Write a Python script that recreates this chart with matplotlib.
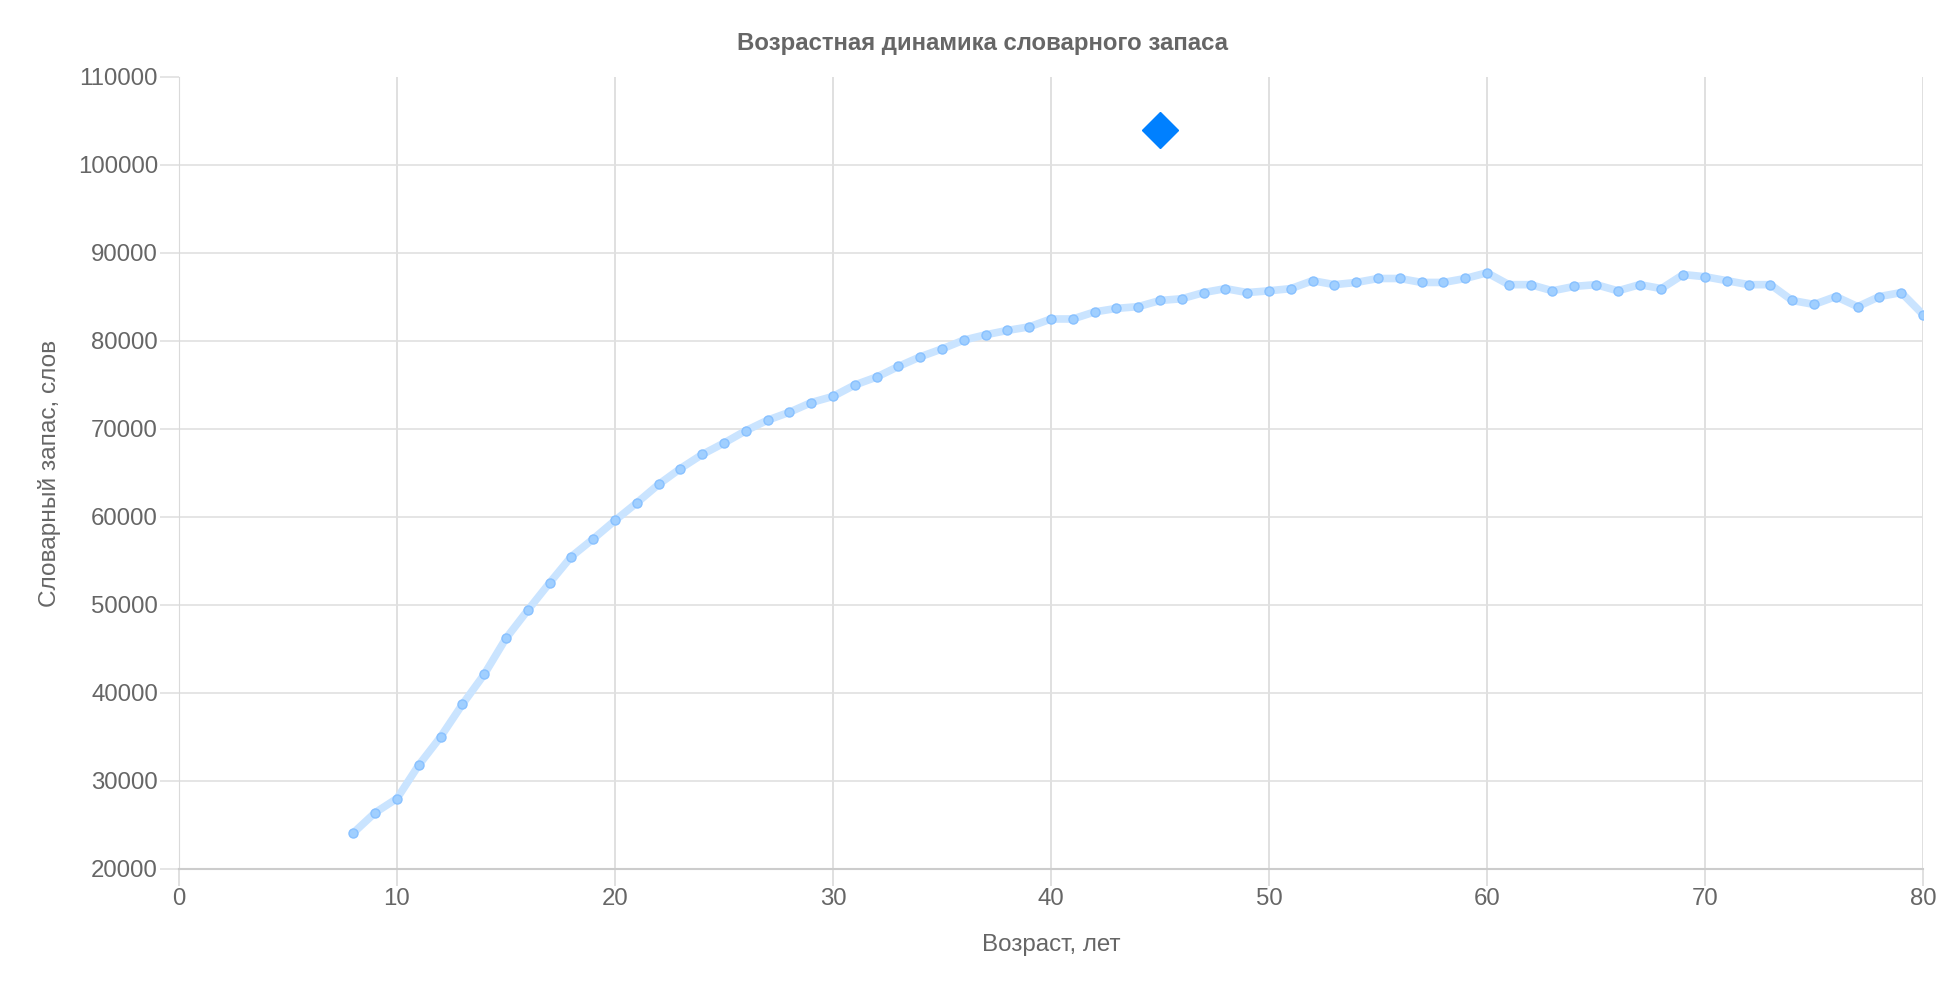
import matplotlib
matplotlib.use('Agg')
import matplotlib.pyplot as plt

plt.rcParams['font.family'] = ['Liberation Sans', 'DejaVu Sans']

# возраст, лет
vozrast = list(range(8, 81))
# словарный запас, слов
zapas = [24100, 26400, 28000, 31800, 35000, 38700, 42100, 46200, 49400, 52500,
         55500, 57500, 59600, 61600, 63700, 65500, 67100, 68400, 69800, 71000,
         71900, 73000, 73700, 75000, 75900, 77100, 78200, 79100, 80100, 80700,
         81200, 81600, 82500, 82500, 83300, 83700, 83900, 84600, 84800, 85500,
         85950, 85500, 85700, 85950, 86850, 86400, 86650, 87100, 87100, 86650,
         86650, 87100, 87750, 86400, 86400, 85700, 86200, 86400, 85700, 86400,
         85950, 87550, 87300, 86850, 86400, 86400, 84600, 84150, 85050, 83900,
         85050, 85500, 83000]

# отдельная точка
tochka_x = [45]
tochka_y = [104000]

szary = '#666666'

fig = plt.figure(figsize=(19.49, 9.83), dpi=100)
ax = fig.add_axes([0.0918, 0.116, 0.8949, 0.8057])

ax.plot(vozrast, zapas, color='#cae4ff', lw=5.5, zorder=3, solid_capstyle='round')
ax.plot(vozrast, zapas, ls='none', marker='o', ms=6.5, mfc='#a0cfff',
        mec='#88c1ff', mew=1, zorder=4)
ax.plot(tochka_x, tochka_y, ls='none', marker='D', ms=18, color='#0080ff', zorder=5)

ax.set_xlim(0, 80)
ax.set_ylim(20000, 110000)
ax.set_xticks(range(0, 81, 10))
ax.set_yticks(range(20000, 110001, 10000))

ax.grid(True, axis='y', color='#e0e0e0', lw=1.2)
ax.grid(True, axis='x', color='#dadada', lw=1.2)
ax.set_axisbelow(True)
ax.yaxis.get_gridlines()[-1].set_visible(False)

for s in ['top', 'right']:
    ax.spines[s].set_visible(False)
ax.spines['left'].set_color('#dadada')
ax.spines['bottom'].set_color('#cccccc')
ax.spines['bottom'].set_linewidth(1.5)

ax.tick_params(axis='y', length=14, color='#e0e0e0', width=1.2, pad=1,
               labelsize=17.3, labelcolor=szary)
ax.tick_params(axis='x', length=12, color='#dadada', width=1.2, pad=2,
               labelsize=17.3, labelcolor=szary)

ax.set_xlabel('Возраст, лет', fontsize=17.4, color=szary, labelpad=17)
ax.set_ylabel('Словарный запас, слов', fontsize=17.6, color=szary, labelpad=12)

fig.text(0.504, 0.956, 'Возрастная динамика словарного запаса', ha='center',
         va='center', fontsize=17.3, fontweight='bold', color=szary)

fig.savefig('out.png', dpi=100)
